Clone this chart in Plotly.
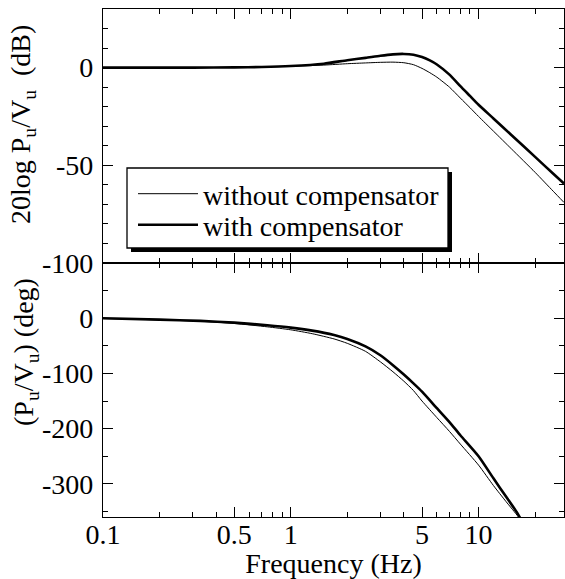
import plotly.graph_objects as go
from plotly.subplots import make_subplots

# ---- data ----
freq_mag = [0.1, 0.2, 0.3, 0.5, 0.7, 1.0, 1.5, 2.0, 2.5, 3.0, 3.5, 4.0, 4.5, 5.0, 5.5,
            6.0, 7.0, 8.0, 9.0, 10, 12, 15, 20, 25, 28.5]
mag_without = [0, 0, 0, 0.1, 0.3, 0.7, 1.3, 2.0, 2.4, 2.7, 2.8, 2.5, 1.5, -0.4, -2.6,
               -4.9, -10, -15.6, -20.5, -25, -32.5, -41.7, -53.6, -63.3, -69]
mag_with = [0, 0, 0, 0.1, 0.3, 0.8, 2.0, 3.8, 5.0, 6.1, 6.8, 7.0, 6.6, 5.4, 3.7,
            1.6, -3.6, -9.5, -14.5, -19.0, -26, -34.6, -45.7, -54.3, -59.3]

freq_ph = [0.1, 0.2, 0.33, 0.5, 0.75, 1.0, 1.3, 1.7, 2.0, 2.5, 3.0, 3.5, 4.0, 4.5, 5.0,
           6.0, 7.0, 8.0, 10, 12, 14, 16.3, 18]
ph_without = [-0.5, -3, -5.5, -9.5, -15.6, -21, -28, -37.5, -45.5, -60, -79, -97, -114, -131, -150,
              -180, -205, -228, -266, -303, -332, -360, -385]
ph_with = [0, -2.5, -4.8, -8, -12.7, -17, -22.5, -30.5, -37.5, -51, -67, -85, -102, -118, -133,
           -163, -188, -212, -250, -290, -323, -356, -385]

x_major = [0.1, 0.5, 1, 5, 10]
x_major_text = ["0.1", "0.5", "1", "5", "10"]
x_minor = [0.2, 0.3, 0.4, 0.6, 0.7, 0.8, 0.9, 2, 3, 4, 6, 7, 8, 9, 20]
mag_major = [0, -50, -100]
mag_major_text = ["0", "-50", "-100"]
mag_minor = [20, 10, -10, -20, -30, -40, -60, -70, -80, -90]
ph_major = [0, -100, -200, -300]
ph_major_text = ["0", "-100", "-200", "-300"]
ph_minor = [50, -50, -150, -250, -350]

FONT = "Liberation Serif"
FS = 28
TXT = dict(family=FONT, size=FS, color="black")

W, H = 565, 579
ML, MR, MT, MB = 103, 1, 9, 62
PW, PH = W - ML - MR, H - MT - MB


def px_x(x):
    return (x - ML) / PW


def px_y(y):
    return (H - MB - y) / PH


fig = make_subplots(rows=2, cols=1, shared_xaxes=False, vertical_spacing=0)

thin = dict(color="black", width=1, shape="spline", smoothing=0.6)
thick = dict(color="black", width=2.6, shape="spline", smoothing=0.6)

fig.add_trace(go.Scatter(x=freq_mag, y=mag_without, mode="lines", name="without compensator",
                         line=thin, legend="legend"), row=1, col=1)
fig.add_trace(go.Scatter(x=freq_mag, y=mag_with, mode="lines", name="with compensator",
                         line=thick, legend="legend2"), row=1, col=1)
fig.add_trace(go.Scatter(x=freq_ph, y=ph_without, mode="lines", showlegend=False,
                         line=thin), row=2, col=1)
fig.add_trace(go.Scatter(x=freq_ph, y=ph_with, mode="lines", showlegend=False,
                         line=thick), row=2, col=1)

xcommon = dict(type="log", range=[-1, 1.455], showline=True, linecolor="black", linewidth=1.3,
               mirror="allticks", ticks="inside", ticklen=10, tickwidth=1.2, tickcolor="black",
               tickvals=x_major, ticktext=x_major_text, showgrid=False, zeroline=False,
               tickfont=TXT, ticklabelstandoff=-8,
               minor=dict(tickvals=x_minor, ticks="inside", ticklen=5, tickwidth=1.2, tickcolor="black",
                          showgrid=False))
fig.update_xaxes(**xcommon)
fig.update_xaxes(showticklabels=False, row=1, col=1)
fig.update_xaxes(title=dict(text="Frequency (Hz)", standoff=2, font=TXT), row=2, col=1)

ycommon = dict(showline=True, linecolor="black", linewidth=1.3, mirror="allticks", ticks="inside",
               ticklen=10, tickwidth=1.2, tickcolor="black", showgrid=False, zeroline=False,
               ticklabelstandoff=3, tickfont=TXT)
fig.update_yaxes(**ycommon)
fig.update_yaxes(range=[-100, 30], tickvals=mag_major, ticktext=mag_major_text,
                 minor=dict(tickvals=mag_minor, ticks="inside", ticklen=5, tickwidth=1.2,
                            tickcolor="black", showgrid=False), row=1, col=1)
fig.update_yaxes(range=[-360, 100], tickvals=ph_major, ticktext=ph_major_text,
                 minor=dict(tickvals=ph_minor, ticks="inside", ticklen=5, tickwidth=1.2,
                            tickcolor="black", showgrid=False), row=2, col=1)

# y-axis titles as annotations
fig.add_annotation(text="20log P<sub>u</sub>/V<sub>u</sub>\u00a0 (dB)", textangle=-90,
                   xref="paper", yref="paper", x=px_x(22), y=px_y(125), showarrow=False,
                   xanchor="center", yanchor="middle", font=TXT)
fig.add_annotation(text="(P<sub>u</sub>/V<sub>u</sub>) (deg)", textangle=-90,
                   xref="paper", yref="paper", x=px_x(25), y=px_y(352), showarrow=False,
                   xanchor="center", yanchor="middle", font=TXT)

# legend frame with drop shadow
fig.add_shape(type="rect", xref="paper", yref="paper",
              x0=px_x(131), x1=px_x(452), y0=px_y(252), y1=px_y(172),
              fillcolor="black", line=dict(width=0), layer="above")
fig.add_shape(type="rect", xref="paper", yref="paper",
              x0=px_x(127), x1=px_x(448), y0=px_y(248), y1=px_y(168),
              fillcolor="white", line=dict(color="black", width=1.3), layer="above")

leg_common = dict(xanchor="left", yanchor="top", bgcolor="rgba(0,0,0,0)", borderwidth=0,
                  font=TXT, itemwidth=60)
fig.update_layout(
    template="none",
    width=W, height=H,
    margin=dict(l=ML, r=MR, t=MT, b=MB),
    paper_bgcolor="white", plot_bgcolor="white",
    font=TXT,
    showlegend=True,
    legend=dict(x=px_x(133), y=px_y(169), **leg_common),
    legend2=dict(x=px_x(133), y=px_y(200), **leg_common),
)

fig.write_html("out.html", config={"displayModeBar": False},
               post_script="document.body.style.margin='0';document.body.style.overflow='hidden';")
